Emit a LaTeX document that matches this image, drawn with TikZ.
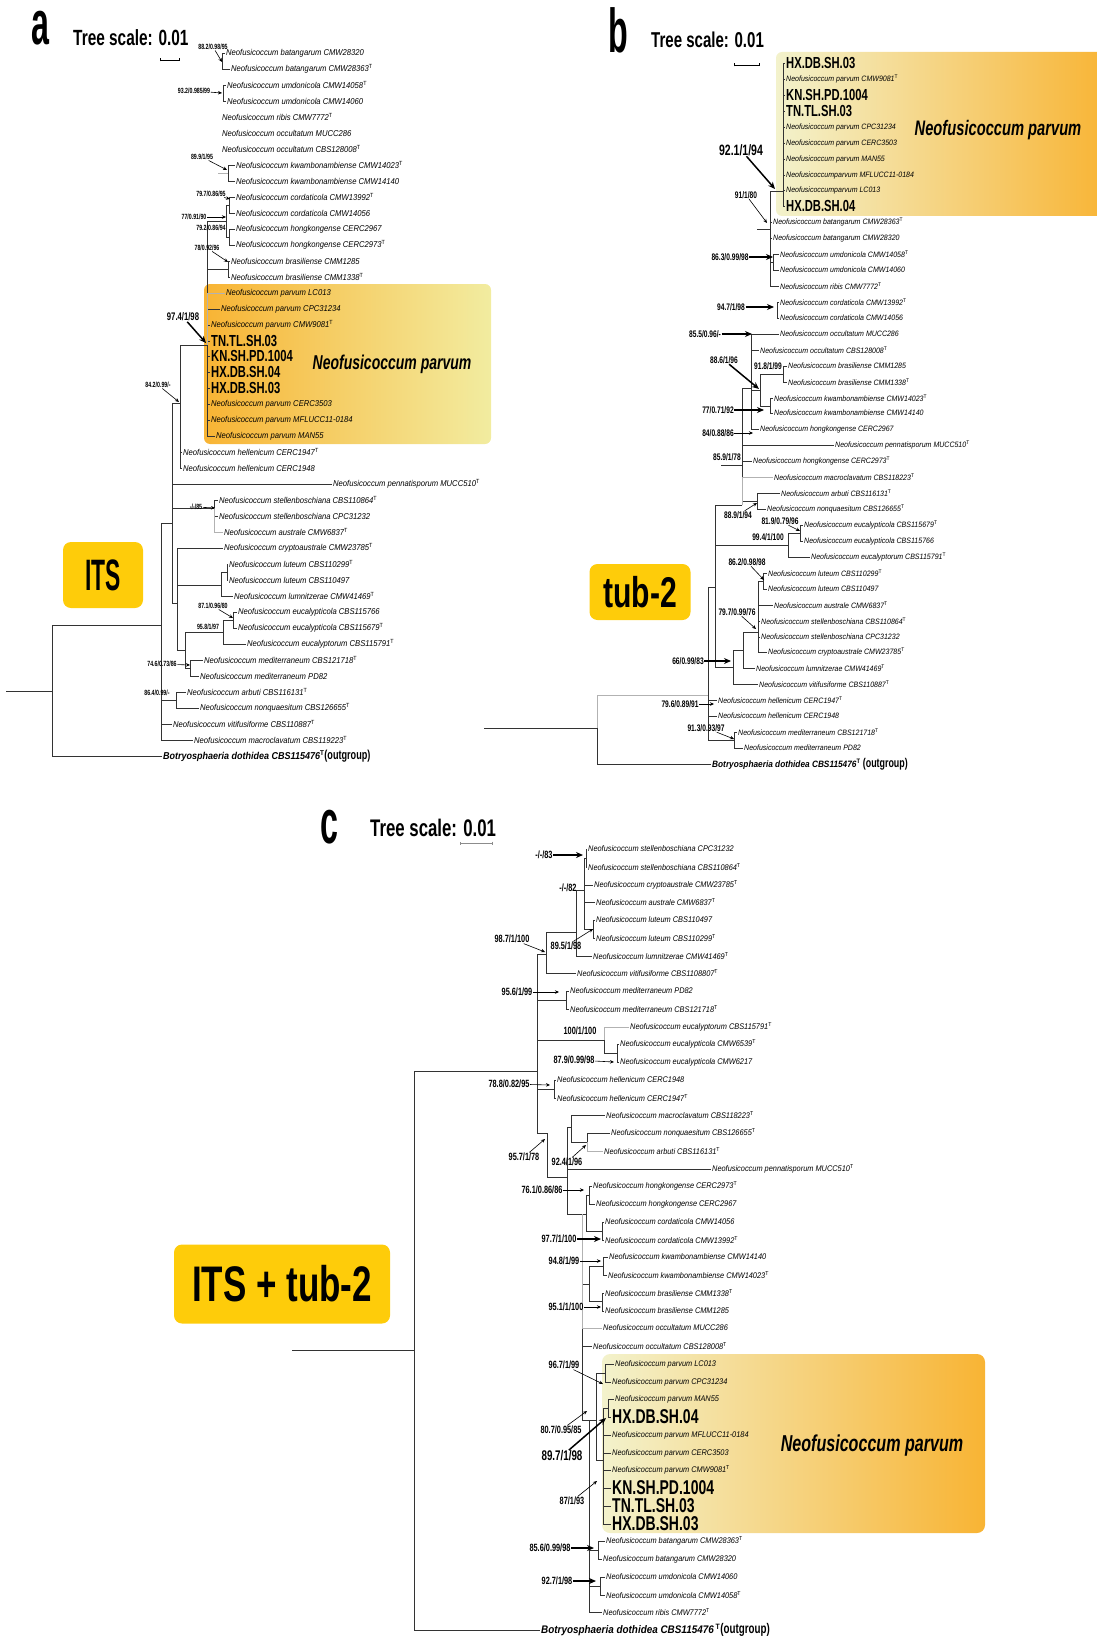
\documentclass[tikz,border=0pt]{standalone}
\usepackage{fontspec}
\setmainfont{Liberation Sans}
\newfontfamily\taxfont[FakeStretch=0.9]{Liberation Sans}
\newfontfamily\condfont[FakeStretch=0.7]{Liberation Sans}
\newfontfamily\narrowfont[FakeStretch=0.52]{Liberation Sans}
\usetikzlibrary{arrows.meta}
\definecolor{tagyellow}{RGB}{254,204,10}
\definecolor{parvorange}{RGB}{248,180,52}
\definecolor{parvpaleA}{RGB}{242,236,160}
\definecolor{parvpaleB}{RGB}{243,242,204}
\newcommand{\tsup}{\textsuperscript{\upshape T}}
\newcommand{\Nf}{Neofusicoccum}

\begin{document}
\begin{tikzpicture}[
    x=1pt, y=-1pt,
    taxa/.style={anchor=west, inner sep=1pt, font=\taxfont\itshape\fontsize{8.5}{9}\selectfont},
    taxb/.style={taxa, font=\taxfont\itshape\fontsize{7.8}{8}\selectfont},
    taxc/.style={taxa, font=\taxfont\itshape\fontsize{8.2}{9}\selectfont},
    iso/.style={anchor=west, inner sep=1pt, font=\condfont\bfseries\fontsize{16}{16}\selectfont},
    isoc/.style={iso, font=\condfont\bfseries\fontsize{20}{20}\selectfont},
    outg/.style={anchor=west, inner sep=1pt, font=\taxfont\bfseries\itshape\fontsize{10}{11}\selectfont},
    supa/.style={inner sep=0.5pt, font=\condfont\bfseries\fontsize{7.5}{8}\selectfont},
    supb/.style={inner sep=0.5pt, font=\condfont\bfseries\fontsize{9.5}{10}\selectfont},
    supc/.style={inner sep=0.5pt, font=\condfont\bfseries\fontsize{10.5}{11}\selectfont},
    br/.style={line width=0.8pt, draw=black!80},
    faint/.style={line width=0.8pt, draw=black!30},
    ptr/.style={-{Stealth[length=4pt,width=3.5pt]}, line width=0.6pt},
    ptrb/.style={-{Stealth[length=7pt,width=6pt]}, line width=1.5pt},
    tagbox/.style={fill=tagyellow, rounded corners=8pt, inner sep=0pt},
    letter/.style={anchor=base, inner sep=0pt, font=\narrowfont\bfseries\fontsize{62}{62}\selectfont},
    scaletxt/.style={anchor=base west, inner sep=1pt, font=\condfont\bfseries\fontsize{22}{22}\selectfont},
    clade/.style={inner sep=1pt, font=\condfont\bfseries\itshape\fontsize{20}{20}\selectfont},
    scalebar/.style={{Bar[width=3pt]}-{Bar[width=3pt]}, line width=0.6pt}
]
\useasboundingbox (0,0) rectangle (1096,1637);

% Highlight boxes
\shade[left color=parvorange, right color=parvpaleA, rounded corners=6pt] (204,284) rectangle (491,444);
\shade[left color=parvpaleB, right color=parvorange, rounded corners=6pt] (776,52) rectangle (1110,216);
\shade[left color=parvpaleB, right color=parvorange, rounded corners=8pt] (602,1354) rectangle (985,1533);

% ---------------- a: ITS ----------------
\node[letter] (aLetter) at (40,45) {a};
\node[scaletxt] (aScale) at (72,46) {Tree scale: 0.01};
\coordinate (aBar1) at (160,60);
\coordinate (aBar2) at (180,60);
\draw[scalebar] (aBar1) -- (aBar2);
\node[tagbox, minimum width=80pt, minimum height=66pt, font=\narrowfont\bfseries\fontsize{44}{44}\selectfont] (aTag) at (103,575) {ITS};
\node[clade] (aClade) at (392,364) {\Nf{} parvum};

% Taxa
\node[taxa] (a01) at (225,53) {\Nf{} batangarum CMW28320};
\node[taxa] (a02) at (230,69) {\Nf{} batangarum CMW28363\tsup};
\node[taxa] (a03) at (226,85) {\Nf{} umdonicola CMW14058\tsup};
\node[taxa] (a04) at (226,101) {\Nf{} umdonicola CMW14060};
\node[taxa] (a05) at (221,117) {\Nf{} ribis CMW7772\tsup};
\node[taxa] (a06) at (221,133) {\Nf{} occultatum MUCC286};
\node[taxa] (a07) at (221,149) {\Nf{} occultatum CBS128008\tsup};
\node[taxa] (a08) at (235,165) {\Nf{} kwambonambiense CMW14023\tsup};
\node[taxa] (a09) at (235,181) {\Nf{} kwambonambiense CMW14140};
\node[taxa] (a10) at (235,197) {\Nf{} cordaticola CMW13992\tsup};
\node[taxa] (a11) at (235,213) {\Nf{} cordaticola CMW14056};
\node[taxa] (a12) at (235,229) {\Nf{} hongkongense CERC2967};
\node[taxa] (a13) at (235,245) {\Nf{} hongkongense CERC2973\tsup};
\node[taxa] (a14) at (230,261) {\Nf{} brasiliense CMM1285};
\node[taxa] (a15) at (230,277) {\Nf{} brasiliense CMM1338\tsup};
\node[taxa] (a16) at (225,293) {\Nf{} parvum LC013};
\node[taxa] (a17) at (220,309) {\Nf{} parvum CPC31234};
\node[taxa] (a18) at (210,325) {\Nf{} parvum CMW9081\tsup};
\node[iso] (a19) at (210,341) {TN.TL.SH.03};
\node[iso] (a20) at (210,356) {KN.SH.PD.1004};
\node[iso] (a21) at (210,372) {HX.DB.SH.04};
\node[iso] (a22) at (210,388) {HX.DB.SH.03};
\node[taxa] (a23) at (210,404) {\Nf{} parvum CERC3503};
\node[taxa] (a24) at (210,420) {\Nf{} parvum MFLUCC11-0184};
\node[taxa] (a25) at (215,436) {\Nf{} parvum MAN55};
\node[taxa] (a26) at (182,452) {\Nf{} hellenicum CERC1947\tsup};
\node[taxa] (a27) at (182,468) {\Nf{} hellenicum CERC1948};
\node[taxa] (a28) at (332,484) {\Nf{} pennatisporum MUCC510\tsup};
\node[taxa] (a29) at (218,500) {\Nf{} stellenboschiana CBS110864\tsup};
\node[taxa] (a30) at (218,516) {\Nf{} stellenboschiana CPC31232};
\node[taxa] (a31) at (223,532) {\Nf{} australe CMW6837\tsup};
\node[taxa] (a32) at (223,548) {\Nf{} cryptoaustrale CMW23785\tsup};
\node[taxa] (a33) at (228,564) {\Nf{} luteum CBS110299\tsup};
\node[taxa] (a34) at (228,580) {\Nf{} luteum CBS110497};
\node[taxa] (a35) at (233,596) {\Nf{} lumnitzerae CMW41469\tsup};
\node[taxa] (a36) at (237,612) {\Nf{} eucalypticola CBS115766};
\node[taxa] (a37) at (237,628) {\Nf{} eucalypticola CBS115679\tsup};
\node[taxa] (a38) at (246,644) {\Nf{} eucalyptorum CBS115791\tsup};
\node[taxa] (a39) at (203,660) {\Nf{} mediterraneum CBS121718\tsup};
\node[taxa] (a40) at (199,676) {\Nf{} mediterraneum PD82};
\node[taxa] (a41) at (186,692) {\Nf{} arbuti CBS116131\tsup};
\node[taxa] (a42) at (199,708) {\Nf{} nonquaesitum CBS126655\tsup};
\node[taxa] (a43) at (172,724) {\Nf{} vitifusiforme CBS110887\tsup};
\node[taxa] (a44) at (193,740) {\Nf{} macroclavatum CBS119223\tsup};
\node[outg] (a45) at (162,756) {Botryosphaeria dothidea CBS115476\tsup{\condfont\upshape\bfseries\fontsize{13}{13}\selectfont(outgroup)}};

% Inner nodes
\coordinate (aRs) at (6,691);
\coordinate (aR) at (52,691);
\coordinate (aI) at (161,625);
\coordinate (aNA) at (176,700);
\coordinate (aJ) at (172,523);
\coordinate (aSt) at (214,508);
\coordinate (aD) at (177,603);
\coordinate (aLu) at (221,585);
\coordinate (aLP) at (227,572);
\coordinate (aE) at (185,650);
\coordinate (aEu) at (223,632);
\coordinate (aEP) at (233,620);
\coordinate (aMd) at (190,668);
\coordinate (aC) at (180,403);
\coordinate (aP) at (207,345);
\coordinate (aCH) at (226,221);
\coordinate (aCo) at (229,205);
\coordinate (aHo) at (229,237);
\coordinate (aBr) at (228,269);
\coordinate (aBt) at (222,61);
\coordinate (aUm) at (223,93);
\coordinate (aKw) at (228,173);
\coordinate (aKs) at (218,173);

% Branches
\draw[br] (aRs) -- (aR) (aR) |- (a45.west) (aR) |- (aI);
\draw[br] (aI) |- (aJ) (aI) |- (aNA) (aI) |- (a43.west) (aI) |- (a44.west);
\draw[br] (aNA) |- (a41.west) (aNA) |- (a42.west);
\draw[br] (aJ) |- (aC) (aJ) |- (a28.west) (aJ) |- (aSt) (aJ) |- (aD);
\draw[br] (aSt) |- (a29.west) (aSt) |- (a30.west);
\draw[faint] (aSt) |- (a31.west);
\draw[br] (aD) |- (a32.west) (aD) |- (aLu) (aD) |- (aE);
\draw[br] (aLu) |- (aLP) (aLu) |- (a35.west);
\draw[br] (aLP) |- (a33.west) (aLP) |- (a34.west);
\draw[br] (aE) |- (aEu) (aE) |- (aMd);
\draw[br] (aEu) |- (aEP) (aEu) |- (a38.west);
\draw[br] (aEP) |- (a36.west) (aEP) |- (a37.west);
\draw[br] (aMd) |- (a39.west) (aMd) |- (a40.west);
\draw[br] (aC) |- (aP) (aC) |- (a26.west) (aC) |- (a27.west);
\draw[br] (aP) |- (aCH) (aP) |- (aBr) (aP) |- (a17.west) (aP) |- (a18.west)
          (aP) |- (a19.west) (aP) |- (a20.west) (aP) |- (a21.west) (aP) |- (a22.west)
          (aP) |- (a23.west) (aP) |- (a24.west) (aP) |- (a25.west);
\draw[faint] (aP) |- (a16.west);
\draw[br] (aCH) |- (aCo) (aCH) |- (aHo);
\draw[br] (aCo) |- (a10.west) (aCo) |- (a11.west);
\draw[br] (aHo) |- (a12.west) (aHo) |- (a13.west);
\draw[br] (aBr) |- (a14.west) (aBr) |- (a15.west);
\draw[br] (aBt) |- (a01.west) (aBt) |- (a02.west);
\draw[br] (aUm) |- (a03.west) (aUm) |- (a04.west);
\draw[br] (aKw) |- (a08.west) (aKw) |- (a09.west);
\draw[faint] (aKs) -- (aKw);

% Support values
\node[supa] (aL1) at (213,47) {88.2/0.98/95};
\node[supa] (aL2) at (194,91) {93.2/0.985/99};
\node[supa] (aL3) at (202,157) {89.9/1/95};
\node[supa] (aL4) at (211,194) {79.7/0.86/95};
\node[supa] (aL5) at (194,217) {77/0.91/90};
\node[supa] (aL6) at (211,228) {79.2/0.86/94};
\node[supa] (aL7) at (207,248) {78/0.92/96};
\node[supa, font=\condfont\bfseries\fontsize{11}{11}\selectfont] (aL8) at (183,317) {97.4/1/98};
\node[supa] (aL9) at (158,385) {84.2/0.99/-};
\node[supa] (aL10) at (196,507) {-/-/85};
\node[supa] (aL11) at (213,606) {87.1/0.96/80};
\node[supa] (aL12) at (208,627) {95.8/1/97};
\node[supa] (aL13) at (162,664) {74.6/0.73/86};
\node[supa] (aL14) at (157,693) {86.4/0.99/-};
\coordinate (aH1) at (222,62);
\coordinate (aH2) at (222,93);
\coordinate (aH3) at (227,170);
\coordinate (aH4) at (230,199);
\coordinate (aH5) at (226,217);
\coordinate (aH7) at (228,262);
\coordinate (aH8) at (206,343);
\coordinate (aH9) at (179,402);
\coordinate (aH10) at (215,508);
\coordinate (aH11) at (233,618);
\coordinate (aH13) at (190,665);
\draw[ptr] (aL1) -- (aH1);
\draw[ptr] (aL2) -- (aH2);
\draw[ptr] (aL3) -- (aH3);
\draw[ptr] (aL4) -- (aH4);
\draw[ptr] (aL5) -- (aH5);
\draw[ptr] (aL7) -- (aH7);
\draw[ptrb] (aL8) -- (aH8);
\draw[ptr] (aL9) -- (aH9);
\draw[ptr] (aL10) -- (aH10);
\draw[ptr] (aL11) -- (aH11);
\draw[ptr] (aL13) -- (aH13);

% ---------------- b: tub-2 ----------------
\node[letter] (bLetter) at (618,53) {b};
\node[scaletxt, font=\condfont\bfseries\fontsize{21.5}{22}\selectfont] (bScale) at (650,48) {Tree scale: 0.01};
\coordinate (bBar1) at (734,65);
\coordinate (bBar2) at (760,65);
\draw[scalebar] (bBar1) -- (bBar2);
\node[tagbox, minimum width=101pt, minimum height=56pt, font=\condfont\bfseries\fontsize{43}{43}\selectfont] (bTag) at (640,592) {tub-2};
\node[clade, font=\condfont\bfseries\itshape\fontsize{21}{21}\selectfont] (bClade) at (998,130) {\Nf{} parvum};

% Taxa
\node[iso] (b01) at (785,63) {HX.DB.SH.03};
\node[taxb] (b02) at (785,79) {\Nf{} parvum CMW9081\tsup};
\node[iso] (b03) at (785,95) {KN.SH.PD.1004};
\node[iso] (b04) at (785,111) {TN.TL.SH.03};
\node[taxb] (b05) at (785,127) {\Nf{} parvum CPC31234};
\node[taxb] (b06) at (785,143) {\Nf{} parvum CERC3503};
\node[taxb] (b07) at (785,159) {\Nf{} parvum MAN55};
\node[taxb] (b08) at (785,175) {Neofusicoccumparvum MFLUCC11-0184};
\node[taxb] (b09) at (785,190) {Neofusicoccumparvum LC013};
\node[iso] (b10) at (785,206) {HX.DB.SH.04};
\node[taxb] (b11) at (772,222) {\Nf{} batangarum CMW28363\tsup};
\node[taxb] (b12) at (772,238) {\Nf{} batangarum CMW28320};
\node[taxb] (b13) at (779,254) {\Nf{} umdonicola CMW14058\tsup};
\node[taxb] (b14) at (779,270) {\Nf{} umdonicola CMW14060};
\node[taxb] (b15) at (779,286) {\Nf{} ribis CMW7772\tsup};
\node[taxb] (b16) at (779,302) {\Nf{} cordaticola CMW13992\tsup};
\node[taxb] (b17) at (779,318) {\Nf{} cordaticola CMW14056};
\node[taxb] (b18) at (779,334) {\Nf{} occultatum MUCC286};
\node[taxb] (b19) at (759,350) {\Nf{} occultatum CBS128008\tsup};
\node[taxb] (b20) at (787,366) {\Nf{} brasiliense CMM1285};
\node[taxb] (b21) at (787,382) {\Nf{} brasiliense CMM1338\tsup};
\node[taxb] (b22) at (773,398) {\Nf{} kwambonambiense CMW14023\tsup};
\node[taxb] (b23) at (773,413) {\Nf{} kwambonambiense CMW14140};
\node[taxb] (b24) at (759,429) {\Nf{} hongkongense CERC2967};
\node[taxb] (b25) at (834,445) {\Nf{} pennatisporum MUCC510\tsup};
\node[taxb] (b26) at (752,461) {\Nf{} hongkongense CERC2973\tsup};
\node[taxb] (b27) at (773,477) {\Nf{} macroclavatum CBS118223\tsup};
\node[taxb] (b28) at (780,493) {\Nf{} arbuti CBS116131\tsup};
\node[taxb] (b29) at (766,509) {\Nf{} nonquaesitum CBS126655\tsup};
\node[taxb] (b30) at (803,525) {\Nf{} eucalypticola CBS115679\tsup};
\node[taxb] (b31) at (803,541) {\Nf{} eucalypticola CBS115766};
\node[taxb] (b32) at (810,557) {\Nf{} eucalyptorum CBS115791\tsup};
\node[taxb] (b33) at (767,573) {\Nf{} luteum CBS110299\tsup};
\node[taxb] (b34) at (767,589) {\Nf{} luteum CBS110497};
\node[taxb] (b35) at (773,605) {\Nf{} australe CMW6837\tsup};
\node[taxb] (b36) at (760,621) {\Nf{} stellenboschiana CBS110864\tsup};
\node[taxb] (b37) at (760,637) {\Nf{} stellenboschiana CPC31232};
\node[taxb] (b38) at (767,652) {\Nf{} cryptoaustrale CMW23785\tsup};
\node[taxb] (b39) at (755,668) {\Nf{} lumnitzerae CMW41469\tsup};
\node[taxb] (b40) at (758,684) {\Nf{} vitifusiforme CBS110887\tsup};
\node[taxb] (b41) at (717,700) {\Nf{} hellenicum CERC1947\tsup};
\node[taxb] (b42) at (717,716) {\Nf{} hellenicum CERC1948};
\node[taxb] (b43) at (737,732) {\Nf{} mediterraneum CBS121718\tsup};
\node[taxb] (b44) at (743,748) {\Nf{} mediterraneum PD82};
\node[outg, font=\taxfont\bfseries\itshape\fontsize{9.2}{10}\selectfont] (b45) at (711,764) {Botryosphaeria dothidea CBS115476\tsup\ {\condfont\upshape\bfseries\fontsize{12.7}{13}\selectfont(outgroup)}};

% Inner nodes
\coordinate (bRs) at (484,728);
\coordinate (bR) at (597,728);
\coordinate (bI) at (708,695);
\coordinate (bMd) at (734,740);
\coordinate (bX) at (715,587);
\coordinate (bL) at (733,667);
\coordinate (bLu) at (743,650);
\coordinate (bLt) at (758,632);
\coordinate (bLP) at (763,581);
\coordinate (bEu) at (788,545);
\coordinate (bEP) at (800,533);
\coordinate (bT) at (742,505);
\coordinate (bAN) at (757,501);
\coordinate (bO) at (751,388);
\coordinate (bBK) at (760,390);
\coordinate (bBr) at (783,374);
\coordinate (bKw) at (770,406);
\coordinate (bCo) at (777,310);
\coordinate (bUs) at (757,229);
\coordinate (bV) at (770,229);
\coordinate (bP) at (783,191);
\coordinate (bUm) at (773,262);
\coordinate (b85) at (721,465);

% Branches
\draw[br] (bRs) -- (bR) (bR) |- (b45.west);
\draw[faint] (bR) |- (bI);
\draw[br] (bI) |- (bX) (bI) |- (b41.west) (bI) |- (b42.west) (bI) |- (bMd);
\draw[br] (bMd) |- (b43.west) (bMd) |- (b44.west);
\draw[br] (bX) |- (bT) (bX) |- (bEu) (bX) |- (bL);
\draw[br] (bL) |- (bLu) (bL) |- (b40.west);
\draw[br] (bLu) |- (bLt) (bLu) |- (b39.west);
\draw[br] (bLt) |- (bLP) (bLt) |- (b35.west) (bLt) |- (b36.west) (bLt) |- (b37.west) (bLt) |- (b38.west);
\draw[br] (bLP) |- (b33.west) (bLP) |- (b34.west);
\draw[br] (bEu) |- (bEP) (bEu) |- (b32.west);
\draw[br] (bEP) |- (b30.west) (bEP) |- (b31.west);
\draw[br] (bT) |- (bAN) (bT) |- (b26.west) (bT) |- (b25.west) (bT) |- (bO);
\draw[faint] (bT) |- (b27.west);
\draw[br] (bAN) |- (b28.west) (bAN) |- (b29.west);
\draw[br] (bO) |- (b18.west) (bO) |- (b19.west) (bO) |- (bBK) (bO) |- (b24.west);
\draw[br] (bBK) |- (bBr) (bBK) |- (bKw);
\draw[br] (bBr) |- (b20.west) (bBr) |- (b21.west);
\draw[br] (bKw) |- (b22.west) (bKw) |- (b23.west);
\draw[br] (bCo) |- (b16.west) (bCo) |- (b17.west);
\draw[br] (bUs) -- (bV) (bV) |- (bP) (bV) |- (b11.west) (bV) |- (b12.west) (bV) |- (bUm) (bV) |- (b15.west);
\draw[br] (bUm) |- (b13.west) (bUm) |- (b14.west);
\draw[br] (bP) |- (b01.west) (bP) |- (b02.west) (bP) |- (b03.west) (bP) |- (b04.west) (bP) |- (b05.west)
          (bP) |- (b06.west) (bP) |- (b07.west) (bP) |- (b08.west) (bP) |- (b09.west) (bP) |- (b10.west);
\draw[br] (b85) -- (b85 -| bT);

% Support values
\node[supb, font=\condfont\bfseries\fontsize{15}{15}\selectfont] (bL1) at (741,150) {92.1/1/94};
\node[supb] (bL2) at (746,195) {91/1/80};
\node[supb] (bL3) at (730,257) {86.3/0.99/98};
\node[supb] (bL4) at (731,307) {94.7/1/98};
\node[supb] (bL5) at (705,334) {85.5/0.96/-};
\node[supb] (bL6) at (724,360) {88.6/1/96};
\node[supb] (bL7) at (768,366) {91.8/1/99};
\node[supb] (bL8) at (718,410) {77/0.71/92};
\node[supb] (bL9) at (718,433) {84/0.88/86};
\node[supb] (bL10) at (727,457) {85.9/1/78};
\node[supb] (bL11) at (738,515) {88.9/1/94};
\node[supb] (bL12) at (780,521) {81.9/0.79/96};
\node[supb] (bL13) at (768,537) {99.4/1/100};
\node[supb] (bL14) at (747,562) {86.2/0.98/98};
\node[supb] (bL15) at (737,612) {79.7/0.99/76};
\node[supb] (bL16) at (688,661) {66/0.99/83};
\node[supb] (bL17) at (680,704) {79.6/0.89/91};
\node[supb] (bL18) at (706,728) {91.3/0.93/97};
\coordinate (bH1) at (775,189);
\coordinate (bH2) at (767,223);
\coordinate (bH3) at (773,257);
\coordinate (bH4) at (774,307);
\coordinate (bH5) at (752,334);
\coordinate (bH6) at (759,389);
\coordinate (bH8) at (764,410);
\coordinate (bH9) at (753,433);
\coordinate (bH11) at (757,503);
\coordinate (bH12) at (800,531);
\coordinate (bH14) at (764,580);
\coordinate (bH15) at (756,629);
\coordinate (bH16) at (731,661);
\coordinate (bH17) at (714,704);
\coordinate (bH18) at (734,739);
\draw[ptrb] (bL1) -- (bH1);
\draw[ptr] (bL2) -- (bH2);
\draw[ptrb] (bL3) -- (bH3);
\draw[ptrb] (bL4) -- (bH4);
\draw[ptrb] (bL5) -- (bH5);
\draw[ptrb] (bL6) -- (bH6);
\draw[ptrb] (bL8) -- (bH8);
\draw[ptr] (bL9) -- (bH9);
\draw[ptr] (bL11) -- (bH11);
\draw[ptr] (bL12) -- (bH12);
\draw[ptr] (bL14) -- (bH14);
\draw[ptr] (bL15) -- (bH15);
\draw[ptrb] (bL16) -- (bH16);
\draw[ptr] (bL17) -- (bH17);
\draw[ptr] (bL18) -- (bH18);

% ---------------- c: ITS + tub-2 ----------------
\node[letter] (cLetter) at (329,843) {c};
\node[scaletxt, font=\condfont\bfseries\fontsize{24}{24}\selectfont] (cScale) at (369,836) {Tree scale: 0.01};
\coordinate (cBar1) at (460,843);
\coordinate (cBar2) at (493,843);
\draw[scalebar, draw=black!45] (cBar1) -- (cBar2);
\node[tagbox, minimum width=216pt, minimum height=79pt, font=\condfont\bfseries\fontsize{50}{50}\selectfont] (cTag) at (282,1284) {ITS + tub-2};
\node[clade, font=\condfont\bfseries\itshape\fontsize{23}{23}\selectfont] (cClade) at (872,1446) {\Nf{} parvum};

% Taxa
\node[taxc] (c01) at (587,849) {\Nf{} stellenboschiana CPC31232};
\node[taxc] (c02) at (587,867) {\Nf{} stellenboschiana CBS110864\tsup};
\node[taxc] (c03) at (593,885) {\Nf{} cryptoaustrale CMW23785\tsup};
\node[taxc] (c04) at (595,902) {\Nf{} australe CMW6837\tsup};
\node[taxc] (c05) at (595,920) {\Nf{} luteum CBS110497};
\node[taxc] (c06) at (595,938) {\Nf{} luteum CBS110299\tsup};
\node[taxc] (c07) at (592,956) {\Nf{} lumnitzerae CMW41469\tsup};
\node[taxc] (c08) at (576,973) {\Nf{} vitifusiforme CBS1108807\tsup};
\node[taxc] (c09) at (569,991) {\Nf{} mediterraneum PD82};
\node[taxc] (c10) at (569,1009) {\Nf{} mediterraneum CBS121718\tsup};
\node[taxc] (c11) at (629,1027) {\Nf{} eucalyptorum CBS115791\tsup};
\node[taxc] (c12) at (619,1044) {\Nf{} eucalypticola CMW6539\tsup};
\node[taxc] (c13) at (619,1062) {\Nf{} eucalypticola CMW6217};
\node[taxc] (c14) at (556,1080) {\Nf{} hellenicum CERC1948};
\node[taxc] (c15) at (556,1098) {\Nf{} hellenicum CERC1947\tsup};
\node[taxc] (c16) at (605,1115) {\Nf{} macroclavatum CBS118223\tsup};
\node[taxc] (c17) at (610,1133) {\Nf{} nonquaesitum CBS126655\tsup};
\node[taxc] (c18) at (603,1151) {\Nf{} arbuti CBS116131\tsup};
\node[taxc] (c19) at (711,1169) {\Nf{} pennatisporum MUCC510\tsup};
\node[taxc] (c20) at (592,1186) {\Nf{} hongkongense CERC2973\tsup};
\node[taxc] (c21) at (595,1204) {\Nf{} hongkongense CERC2967};
\node[taxc] (c22) at (604,1222) {\Nf{} cordaticola CMW14056};
\node[taxc] (c23) at (604,1240) {\Nf{} cordaticola CMW13992\tsup};
\node[taxc] (c24) at (608,1257) {\Nf{} kwambonambiense CMW14140};
\node[taxc] (c25) at (607,1275) {\Nf{} kwambonambiense CMW14023\tsup};
\node[taxc] (c26) at (604,1293) {\Nf{} brasiliense CMM1338\tsup};
\node[taxc] (c27) at (604,1311) {\Nf{} brasiliense CMM1285};
\node[taxc] (c28) at (602,1328) {\Nf{} occultatum MUCC286};
\node[taxc] (c29) at (592,1346) {\Nf{} occultatum CBS128008\tsup};
\node[taxc] (c30) at (614,1364) {\Nf{} parvum LC013};
\node[taxc] (c31) at (611,1382) {\Nf{} parvum CPC31234};
\node[taxc] (c32) at (614,1399) {\Nf{} parvum MAN55};
\node[isoc] (c33) at (611,1417) {HX.DB.SH.04};
\node[taxc] (c34) at (611,1435) {\Nf{} parvum MFLUCC11-0184};
\node[taxc] (c35) at (611,1453) {\Nf{} parvum CERC3503};
\node[taxc] (c36) at (611,1470) {\Nf{} parvum CMW9081\tsup};
\node[isoc] (c37) at (611,1488) {KN.SH.PD.1004};
\node[isoc] (c38) at (611,1506) {TN.TL.SH.03};
\node[isoc] (c39) at (611,1524) {HX.DB.SH.03};
\node[taxc] (c40) at (605,1541) {\Nf{} batangarum CMW28363\tsup};
\node[taxc] (c41) at (602,1559) {\Nf{} batangarum CMW28320};
\node[taxc] (c42) at (605,1577) {\Nf{} umdonicola CMW14060};
\node[taxc] (c43) at (605,1595) {\Nf{} umdonicola CMW14058\tsup};
\node[taxc] (c44) at (602,1612) {\Nf{} ribis CMW7772\tsup};
\node[outg, font=\taxfont\bfseries\itshape\fontsize{11}{12}\selectfont] (c45) at (540,1630) {Botryosphaeria dothidea CBS115476\,\tsup{\condfont\upshape\bfseries\fontsize{14}{14}\selectfont(outgroup)}};

% Inner nodes
\coordinate (cRs) at (292,1350);
\coordinate (cR) at (414,1350);
\coordinate (cI) at (537,1071);
\coordinate (c98) at (546,954);
\coordinate (c89) at (576,932);
\coordinate (c82) at (584,890);
\coordinate (cSt) at (586,858);
\coordinate (cLt) at (593,929);
\coordinate (cMd) at (566,1000);
\coordinate (cEu) at (604,1040);
\coordinate (cEP) at (617,1053);
\coordinate (cHe) at (554,1089);
\coordinate (c95) at (547,1133);
\coordinate (c92) at (567,1177);
\coordinate (cMa) at (571,1127);
\coordinate (cNA) at (587,1142);
\coordinate (cLo) at (582,1214);
\coordinate (cHC) at (586,1214);
\coordinate (cHK) at (589,1195);
\coordinate (cCo) at (602,1231);
\coordinate (cKB) at (589,1284);
\coordinate (cKw) at (603,1266);
\coordinate (cBr) at (602,1301);
\coordinate (cP1) at (589,1420);
\coordinate (cPa) at (596,1420);
\coordinate (cLC) at (605,1373);
\coordinate (cPv) at (603,1460);
\coordinate (cMH) at (608,1408);
\coordinate (cBa) at (598,1550);
\coordinate (cUm) at (600,1586);

% Branches
\draw[br] (cRs) -- (cR) (cR) |- (c45.west) (cR) |- (cI);
\draw[br] (cI) |- (c98) (cI) |- (cMd) (cI) |- (cEu) (cI) |- (cHe) (cI) |- (c95);
\draw[br] (c98) |- (c89) (c98) |- (c08.west);
\draw[br] (c89) |- (c82) (c89) |- (c07.west);
\draw[br] (c82) |- (cSt) (c82) |- (c03.west) (c82) |- (c04.west) (c82) |- (cLt);
\draw[br] (cSt) |- (c01.west) (cSt) |- (c02.west);
\draw[br] (cLt) |- (c05.west) (cLt) |- (c06.west);
\draw[br] (cMd) |- (c09.west) (cMd) |- (c10.west);
\draw[br] (cEu) |- (cEP);
\draw[faint] (cEu) |- (c11.west);
\draw[br] (cEP) |- (c12.west) (cEP) |- (c13.west);
\draw[br] (cHe) |- (c14.west) (cHe) |- (c15.west);
\draw[br] (c95) |- (c92);
\draw[br] (c92) |- (cMa) (c92) |- (c19.west) (c92) |- (cLo);
\draw[br] (cMa) |- (c16.west) (cMa) |- (cNA);
\draw[br] (cNA) |- (c17.west);
\draw[faint] (cNA) |- (c18.west);
\draw[br] (cLo) |- (cHC) (cLo) |- (cKB) (cLo) |- (c29.west) (cLo) |- (cP1);
\draw[faint] (cLo) |- (c28.west);
\draw[br] (cHC) |- (cHK) (cHC) |- (cCo);
\draw[br] (cHK) |- (c20.west) (cHK) |- (c21.west);
\draw[br] (cCo) |- (c22.west) (cCo) |- (c23.west);
\draw[br] (cKB) |- (cKw) (cKB) |- (cBr);
\draw[br] (cKw) |- (c24.west) (cKw) |- (c25.west);
\draw[br] (cBr) |- (c26.west) (cBr) |- (c27.west);
\draw[br] (cP1) |- (cPa) (cP1) |- (cBa) (cP1) |- (cUm) (cP1) |- (c44.west);
\draw[br] (cPa) |- (cLC) (cPa) |- (cPv);
\draw[br] (cLC) |- (c30.west) (cLC) |- (c31.west);
\draw[br] (cPv) |- (cMH) (cPv) |- (c34.west) (cPv) |- (c35.west) (cPv) |- (c36.west)
          (cPv) |- (c37.west) (cPv) |- (c38.west) (cPv) |- (c39.west);
\draw[br] (cMH) |- (c32.west) (cMH) |- (c33.west);
\draw[br] (cBa) |- (c40.west) (cBa) |- (c41.west);
\draw[br] (cUm) |- (c42.west) (cUm) |- (c43.west);

% Support values
\node[supc] (cL1) at (544,855) {-/-/83};
\node[supc] (cL2) at (568,888) {-/-/82};
\node[supc] (cL3) at (512,939) {98.7/1/100};
\node[supc] (cL4) at (566,946) {89.5/1/98};
\node[supc] (cL5) at (517,992) {95.6/1/99};
\node[supc] (cL6) at (580,1031) {100/1/100};
\node[supc] (cL7) at (574,1060) {87.9/0.99/98};
\node[supc] (cL8) at (509,1084) {78.8/0.82/95};
\node[supc] (cL9) at (524,1157) {95.7/1/78};
\node[supc] (cL10) at (567,1162) {92.4/1/96};
\node[supc] (cL11) at (542,1190) {76.1/0.86/86};
\node[supc] (cL12) at (559,1239) {97.7/1/100};
\node[supc] (cL13) at (564,1261) {94.8/1/99};
\node[supc] (cL14) at (566,1307) {95.1/1/100};
\node[supc] (cL15) at (564,1365) {96.7/1/99};
\node[supc] (cL16) at (561,1430) {80.7/0.95/85};
\node[supc, font=\condfont\bfseries\fontsize{14}{14}\selectfont] (cL17) at (562,1456) {89.7/1/98};
\node[supc] (cL18) at (572,1501) {87/1/93};
\node[supc] (cL19) at (550,1548) {85.6/0.99/98};
\node[supc] (cL20) at (557,1581) {92.7/1/98};
\coordinate (cH1) at (583,855);
\coordinate (cH3) at (545,952);
\coordinate (cH4) at (593,929);
\coordinate (cH5) at (559,992);
\coordinate (cH7) at (614,1062);
\coordinate (cH8) at (550,1085);
\coordinate (cH9) at (545,1139);
\coordinate (cH10) at (586,1145);
\coordinate (cH11) at (584,1190);
\coordinate (cH12) at (601,1239);
\coordinate (cH13) at (601,1261);
\coordinate (cH14) at (601,1307);
\coordinate (cH15) at (603,1384);
\coordinate (cH16) at (587,1411);
\coordinate (cH17) at (606,1418);
\coordinate (cH18) at (597,1481);
\coordinate (cH19) at (594,1548);
\coordinate (cH20) at (596,1581);
\draw[ptrb] (cL1) -- (cH1);
\draw[ptr] (cL3) -- (cH3);
\draw[ptr] (cL4) -- (cH4);
\draw[ptr] (cL5) -- (cH5);
\draw[ptr] (cL7) -- (cH7);
\draw[ptr] (cL8) -- (cH8);
\draw[ptr] (cL9) -- (cH9);
\draw[ptr] (cL10) -- (cH10);
\draw[ptr] (cL11) -- (cH11);
\draw[ptrb] (cL12) -- (cH12);
\draw[ptr] (cL13) -- (cH13);
\draw[ptr] (cL14) -- (cH14);
\draw[ptr] (cL15) -- (cH15);
\draw[ptr] (cL16) -- (cH16);
\draw[ptrb] (cL17) -- (cH17);
\draw[ptr] (cL18) -- (cH18);
\draw[ptrb] (cL19) -- (cH19);
\draw[ptrb] (cL20) -- (cH20);
\end{tikzpicture}
\end{document}
